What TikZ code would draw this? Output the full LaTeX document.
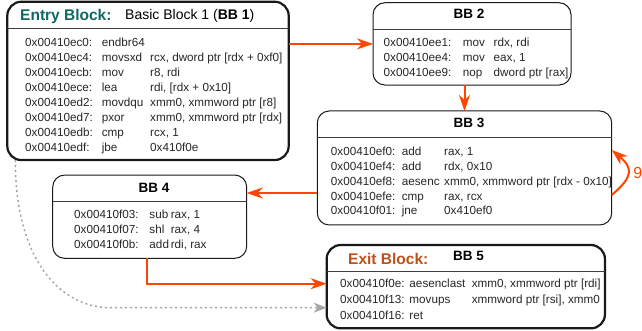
\documentclass[tikz,border=0pt]{standalone}
\usepackage{fontspec}
\setmainfont{Liberation Sans}
\usepackage{tikz}
\usetikzlibrary{calc}
\usetikzlibrary{arrows.meta}
\definecolor{edgered}{RGB}{255,69,0}
\definecolor{entryteal}{RGB}{16,104,100}
\definecolor{exitrust}{RGB}{190,80,25}
\definecolor{dotgray}{RGB}{165,165,165}
\definecolor{rulegray}{RGB}{60,60,60}
\tikzstyle{block} = [rectangle, 
rounded corners=12pt, 
draw=black!90, 
line width=1pt, 
inner sep=0pt, 
outer sep=0pt]
\tikzstyle{endblock} = [block, 
line width=2.2pt, 
rounded corners=14pt]
\tikzstyle{title} = [inner sep=0pt, 
anchor=base, 
font=\fontsize{13.5}{16}\selectfont\bfseries]
\tikzstyle{code} = [inner sep=0pt, 
anchor=base west, 
text=black!85]
\tikzstyle{arrow} = [line width=2pt, draw=edgered, -{Stealth[length=16pt,width=11pt,inset=5pt]}]
\tikzstyle{dotarrow} = [line width=1.5pt, draw=dotgray, dash pattern=on 2pt off 3pt, -{Stealth[length=13pt,width=10pt,inset=4pt]}]

\begin{document}
\begin{tikzpicture} [x=1pt, y=1pt]
    \useasboundingbox (0,0) rectangle (642,331);

    \node (bbone) [endblock, minimum width=281.4, minimum height=158.3] at (148,250.1) {};
    \node (bbtwo) [block, minimum width=198, minimum height=82.3] at (472,287.1) {};
    \node (bbthree) [block, minimum width=294.4, minimum height=114] at (464.5,163) {};
    \node (bbfour) [block, minimum width=194, minimum height=83.3] at (149.7,114.3) {};
    \node (bbfive) [endblock, minimum width=278.3, minimum height=83.3] at (465.8,44.3) {};

    % header rules
    \foreach \b in {bbone,bbtwo,bbthree,bbfour,bbfive}
        \draw [rulegray, line width=1pt] ([yshift=-26.5pt]\b.north west) -- ([yshift=-26.5pt]\b.north east);

    % titles
    \node (entrylbl) [anchor=base west, inner sep=0pt, text=entryteal, font=\fontsize{15.5}{18}\selectfont\bfseries] at (20,310) {Entry Block:};
    \node (bbonelbl) [anchor=base west, inner sep=0pt, font=\fontsize{14}{16}\selectfont] at (125,311) {Basic Block 1 (\textbf{BB 1})};
    \node (bbtwolbl) [title] at (469,312) {BB 2};
    \node (bbthreelbl) [title] at (469,203.7) {BB 3};
    \node (bbfourlbl) [title] at (154,138.7) {BB 4};
    \node (exitlbl) [anchor=base west, inner sep=0pt, text=exitrust, font=\fontsize{15.5}{18}\selectfont\bfseries] at (348,66.7) {Exit Block:};
    \node (bbfivelbl) [title, anchor=base west] at (453,70) {BB 5};

    % code
    \node (bbonecode) [code] at (25,284.3) {\fontsize{11.7}{15}\selectfont
        \begin{tabular}[t]{@{}p{76.7pt}@{}p{48.3pt}@{}l@{}}
        0x00410ec0: & endbr64 & \\
        0x00410ec4: & movsxd & rcx, dword ptr [rdx + 0xf0] \\
        0x00410ecb: & mov & r8, rdi \\
        0x00410ece: & lea & rdi, [rdx + 0x10] \\
        0x00410ed2: & movdqu & xmm0, xmmword ptr [r8] \\
        0x00410ed7: & pxor & xmm0, xmmword ptr [rdx] \\
        0x00410edb: & cmp & rcx, 1 \\
        0x00410edf: & jbe & 0x410f0e
        \end{tabular}};
    \node (bbtwocode) [code] at (383.5,284.3) {\fontsize{11.7}{15}\selectfont
        \begin{tabular}[t]{@{}p{79.2pt}@{}p{30.8pt}@{}l@{}}
        0x00410ee1: & mov & rdx, rdi \\
        0x00410ee4: & mov & eax, 1 \\
        0x00410ee9: & nop & dword ptr [rax]
        \end{tabular}};
    \node (bbthreecode) [code] at (330.7,175.3) {\fontsize{11.7}{14.8}\selectfont
        \begin{tabular}[t]{@{}p{71pt}@{}p{42.3pt}@{}l@{}}
        0x00410ef0: & add & rax, 1 \\
        0x00410ef4: & add & rdx, 0x10 \\
        0x00410ef8: & aesenc & xmm0, xmmword ptr [rdx - 0x10] \\
        0x00410efe: & cmp & rax, rcx \\
        0x00410f01: & jne & 0x410ef0
        \end{tabular}};
    \node (bbfourcode) [code] at (74,112) {\fontsize{11.7}{15}\selectfont
        \begin{tabular}[t]{@{}p{75.3pt}@{}p{21.3pt}@{}l@{}}
        0x00410f03: & sub & rax, 1 \\
        0x00410f07: & shl & rax, 4 \\
        0x00410f0b: & add & rdi, rax
        \end{tabular}};
    \node (bbfivecode) [code] at (340,43.3) {\fontsize{11.7}{15.7}\selectfont
        \begin{tabular}[t]{@{}p{69.3pt}@{}p{62.4pt}@{}l@{}}
        0x00410f0e: & aesenclast & xmm0, xmmword ptr [rdi] \\
        0x00410f13: & movups & xmmword ptr [rsi], xmm0 \\
        0x00410f16: & ret &
        \end{tabular}};

    \coordinate (fourin) at ([yshift=23.7pt]bbfour.east);
    \coordinate (fivein) at ([yshift=3pt]bbfive.west);
    \coordinate (loopout) at ([yshift=-27pt]bbthree.east);
    \coordinate (loopin) at ([yshift=18pt]bbthree.east);
    \coordinate (dotstart) at ([xshift=8pt]bbone.south west);
    \coordinate (fivedash) at ([yshift=-21pt]bbfive.west);
    \coordinate (dotbend) at ($(dotstart |- fivedash)+(95,0)$);

    \draw [arrow] (bbone.east |- bbtwo.west) -- (bbtwo.west);
    \draw [arrow] (bbtwo.south -| bbthree.north) -- (bbthree.north);
    \draw [arrow] (bbthree.west |- fourin) -- (fourin);
    \draw [arrow] ([xshift=-2.4pt]bbfour.south) |- (fivein);
    \draw [arrow] (loopout) to[out=40, in=-40, looseness=1.6] node[right=4.5pt, inner sep=0pt, text=edgered, font=\fontsize{16}{18}\selectfont] (loopcount) {9} (loopin);
    \draw [dotarrow] (dotstart) .. controls +(0,-100) and +(-50,0) .. (dotbend) -- (fivedash);

\end{tikzpicture}
\end{document}
